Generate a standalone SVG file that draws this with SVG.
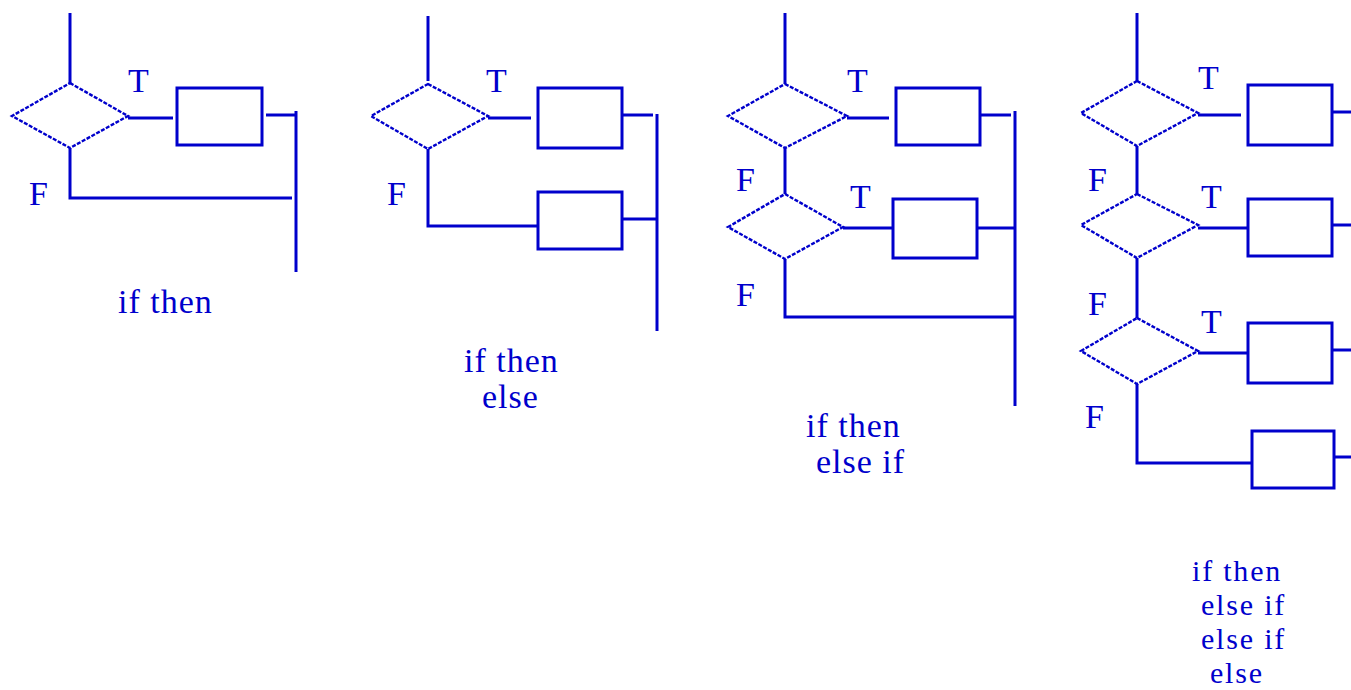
<svg xmlns="http://www.w3.org/2000/svg" width="1351" height="690" viewBox="0 0 1351 690">
  <style>
    .ln { stroke: #0000CC; stroke-width: 3; fill: none; stroke-linecap: butt; }
    .box { stroke: #0000CC; stroke-width: 3; fill: none; }
    .dia { stroke: #0000CC; stroke-width: 2.4; fill: none; stroke-dasharray: 4 1.5; }
    .lbl { font-family: "Liberation Serif", "Times New Roman", serif; font-size: 34px; fill: #0000CC; }
    .cap { font-family: "Liberation Serif", "Times New Roman", serif; font-size: 34px; fill: #0000CC; letter-spacing: 1px; }
    .cap.tight { font-size: 30px; letter-spacing: 1.8px; }
  </style>
  <rect width="1351" height="690" fill="#FFFFFF"/>

  <!-- if then -->
  <g id="if-then">
    <g id="c1-d1"><polygon class="dia" points="70,83 128,116 70,148 12,116"/></g>
    <g id="c1-b1"><rect class="box" x="177" y="88" width="85" height="57"/></g>
    <g id="c1-labels">
      <text class="lbl" x="128" y="92">T</text>
      <text class="lbl" x="29" y="205">F</text>
      <text class="cap" x="118" y="313">if then</text>
    </g>
  </g>

  <!-- if then else -->
  <g id="if-then-else">
    <g id="c2-d1"><polygon class="dia" points="428,84 488,116 428,149 371,116"/></g>
    <g id="c2-b1"><rect class="box" x="538" y="88" width="84" height="60"/></g>
    <g id="c2-b2"><rect class="box" x="538" y="192" width="84" height="57"/></g>
    <g id="c2-labels">
      <text class="lbl" x="486" y="92">T</text>
      <text class="lbl" x="387" y="205">F</text>
      <text class="cap" x="464" y="372">if then</text>
      <text class="cap" x="482" y="408">else</text>
    </g>
  </g>

  <!-- if then else if -->
  <g id="if-then-else-if">
    <g id="c3-d1"><polygon class="dia" points="785,84 847,116 785,148 728,116"/></g>
    <g id="c3-d2"><polygon class="dia" points="785,194 843,227 785,259 728,227"/></g>
    <g id="c3-b1"><rect class="box" x="896" y="88" width="84" height="57"/></g>
    <g id="c3-b2"><rect class="box" x="893" y="199" width="84" height="59"/></g>
    <g id="c3-labels">
      <text class="lbl" x="847" y="92">T</text>
      <text class="lbl" x="736" y="191">F</text>
      <text class="lbl" x="850" y="208">T</text>
      <text class="lbl" x="736" y="306">F</text>
      <text class="cap" x="806" y="437">if then</text>
      <text class="cap" x="816" y="473">else if</text>
    </g>
  </g>

  <!-- if then else if else if else -->
  <g id="if-then-else-if-else">
    <g id="c4-d1"><polygon class="dia" points="1137,81 1198,113 1137,146 1081,113"/></g>
    <g id="c4-d2"><polygon class="dia" points="1137,194 1198,225 1137,258 1081,225"/></g>
    <g id="c4-d3"><polygon class="dia" points="1137,318 1198,351 1137,384 1081,351"/></g>
    <g id="c4-b1"><rect class="box" x="1248" y="85" width="84" height="60"/></g>
    <g id="c4-b2"><rect class="box" x="1248" y="199" width="84" height="57"/></g>
    <g id="c4-b3"><rect class="box" x="1248" y="323" width="84" height="60"/></g>
    <g id="c4-b4"><rect class="box" x="1252" y="431" width="82" height="57"/></g>
    <g id="c4-labels">
      <text class="lbl" x="1198" y="89">T</text>
      <text class="lbl" x="1088" y="191">F</text>
      <text class="lbl" x="1201" y="208">T</text>
      <text class="lbl" x="1088" y="315">F</text>
      <text class="lbl" x="1201" y="333">T</text>
      <text class="lbl" x="1085" y="428">F</text>
      <text class="cap tight" x="1192" y="581">if then</text>
      <text class="cap tight" x="1201" y="615">else if</text>
      <text class="cap tight" x="1201" y="649">else if</text>
      <text class="cap tight" x="1210" y="683">else</text>
    </g>
  </g>

  <g id="connectors">
    <!-- if then -->
    <line class="ln" x1="70" y1="13" x2="70" y2="83"/>
    <line class="ln" x1="128" y1="118" x2="173" y2="118"/>
    <line class="ln" x1="266" y1="115" x2="296" y2="115"/>
    <line class="ln" x1="296" y1="111" x2="296" y2="272"/>
    <polyline class="ln" points="70,148 70,198 292,198"/>

    <!-- if then else -->
    <line class="ln" x1="428" y1="16" x2="428" y2="81"/>
    <line class="ln" x1="488" y1="118" x2="531" y2="118"/>
    <line class="ln" x1="622" y1="115" x2="653" y2="115"/>
    <line class="ln" x1="657" y1="114" x2="657" y2="331"/>
    <polyline class="ln" points="428,149 428,226 538,226"/>
    <line class="ln" x1="622" y1="219" x2="657" y2="219"/>

    <!-- if then else if -->
    <line class="ln" x1="785" y1="13" x2="785" y2="84"/>
    <line class="ln" x1="847" y1="118" x2="889" y2="118"/>
    <line class="ln" x1="980" y1="115" x2="1011" y2="115"/>
    <line class="ln" x1="1015" y1="111" x2="1015" y2="406"/>
    <line class="ln" x1="785" y1="148" x2="785" y2="194"/>
    <line class="ln" x1="843" y1="228" x2="893" y2="228"/>
    <line class="ln" x1="977" y1="228" x2="1015" y2="228"/>
    <polyline class="ln" points="785,259 785,317 1015,317"/>

    <!-- if then else if else if else -->
    <line class="ln" x1="1137" y1="13" x2="1137" y2="81"/>
    <line class="ln" x1="1198" y1="115" x2="1241" y2="115"/>
    <line class="ln" x1="1332" y1="112" x2="1351" y2="112"/>
    <line class="ln" x1="1137" y1="146" x2="1137" y2="194"/>
    <line class="ln" x1="1198" y1="228" x2="1248" y2="228"/>
    <line class="ln" x1="1332" y1="225" x2="1351" y2="225"/>
    <line class="ln" x1="1137" y1="258" x2="1137" y2="318"/>
    <line class="ln" x1="1198" y1="353" x2="1248" y2="353"/>
    <line class="ln" x1="1332" y1="350" x2="1351" y2="350"/>
    <polyline class="ln" points="1137,384 1137,463 1252,463"/>
    <line class="ln" x1="1334" y1="457" x2="1351" y2="457"/>
  </g>
</svg>
